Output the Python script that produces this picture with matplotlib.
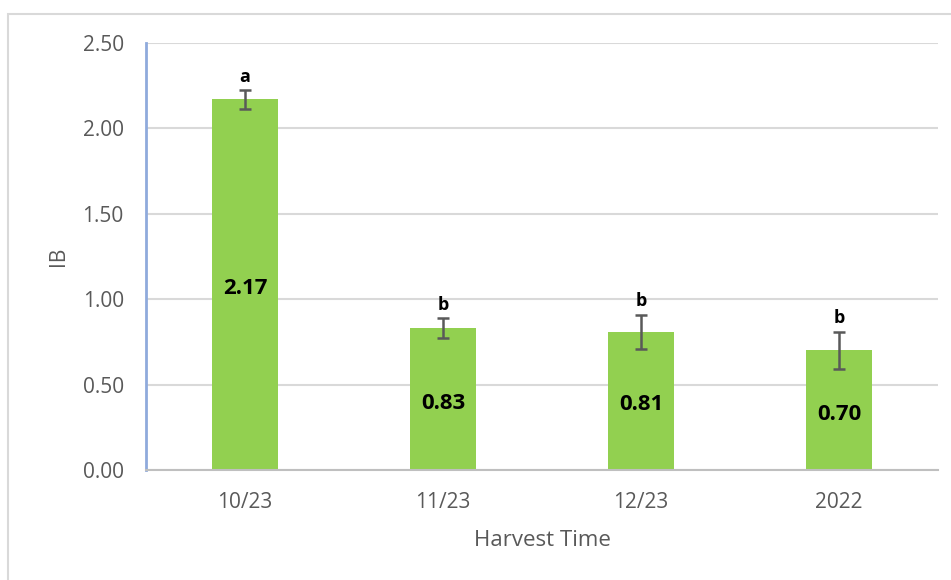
import matplotlib
matplotlib.use("Agg")
import matplotlib.pyplot as plt
from matplotlib.patches import Rectangle

categories = ["10/23", "11/23", "12/23", "2022"]
ib_values = [2.17, 0.83, 0.81, 0.70]
ib_errors = [0.055, 0.06, 0.10, 0.11]
letters = ["a", "b", "b", "b"]
y_ticks = [0.0, 0.5, 1.0, 1.5, 2.0, 2.5]

plt.rcParams["font.family"] = ["Open Sans", "DejaVu Sans"]

fig = plt.figure(figsize=(9.51, 5.8), dpi=100)
fig.patch.set_facecolor("white")

# chart frame
fig.patches.append(Rectangle((8 / 951, -0.1), 1.2, 1.1 - 14 / 580,
                             transform=fig.transFigure, fill=False,
                             edgecolor="#D9D9D9", linewidth=1.5, zorder=0))

ax = fig.add_axes([146 / 951, 1 - 470 / 580, (938 - 146) / 951, (470 - 43) / 580])
x = list(range(len(categories)))
ax.bar(x, ib_values, width=0.335, color="#92D050", zorder=2)
ax.errorbar(x, ib_values, yerr=ib_errors, fmt="none", ecolor="#595959",
            elinewidth=1.8, capsize=4.5, capthick=1.8, zorder=3)

for xi, v, e, lt in zip(x, ib_values, ib_errors, letters):
    ax.annotate(f"{v:.2f}", (xi, v / 2), xytext=(0, -3), textcoords="offset points",
                ha="center", va="center", fontsize=16, fontweight="bold",
                color="black", zorder=4)
    ax.annotate(lt, (xi, v + e), xytext=(0, 3), textcoords="offset points",
                ha="center", va="bottom", fontsize=13, fontweight="bold",
                color="black", zorder=4)

ax.set_xlim(-0.5, len(categories) - 0.5)
ax.set_ylim(0, 2.5)
ax.set_yticks(y_ticks)
ax.set_yticklabels([f"{t:.2f}" for t in y_ticks])
ax.set_xticks(x)
ax.set_xticklabels(categories)
ax.tick_params(axis="both", length=0, labelsize=15, colors="#595959")
ax.tick_params(axis="y", pad=16)
ax.tick_params(axis="x", pad=16)
ax.yaxis.grid(True, color="#D9D9D9", linewidth=1.5, zorder=0)
ax.set_axisbelow(True)

for side in ("top", "right"):
    ax.spines[side].set_visible(False)
ax.spines["left"].set_color("#8FAADC")
ax.spines["left"].set_linewidth(2)
ax.spines["bottom"].set_color("#BFBFBF")
ax.spines["bottom"].set_linewidth(1.5)

ax.set_xlabel("Harvest Time", fontsize=16, color="#595959", labelpad=12)
ax.set_ylabel("IB", fontsize=15, color="#595959", labelpad=10)

fig.savefig("out.png", dpi=100, facecolor="white")
